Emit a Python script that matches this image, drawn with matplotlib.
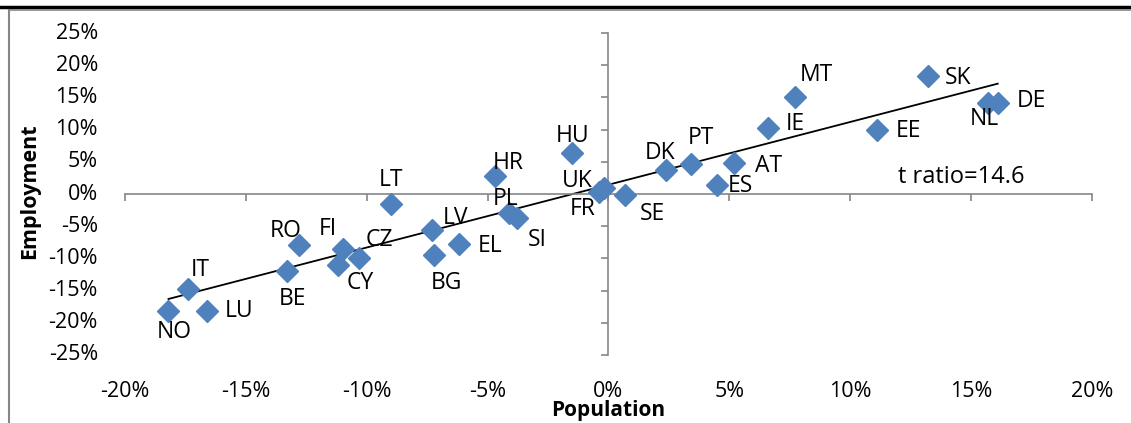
import numpy as np
import matplotlib.pyplot as plt
from matplotlib.lines import Line2D

# population change (%) vs employment change (%) by country
countries = ['NO', 'LU', 'IT', 'BE', 'RO', 'FI', 'CY', 'CZ', 'LT', 'LV', 'BG', 'EL', 'HR', 'PL', 'SI',
             'HU', 'UK', 'FR', 'SE', 'DK', 'PT', 'ES', 'AT', 'IE', 'MT', 'EE', 'SK', 'NL', 'DE']
population = [-18.2, -16.6, -17.4, -13.3, -12.8, -11.0, -11.2, -10.3, -9.0, -7.3, -7.2, -6.2, -4.7, -4.1, -3.8,
              -1.5, -0.2, -0.4, 0.7, 2.4, 3.4, 4.5, 5.2, 6.6, 7.7, 11.1, 13.2, 15.7, 16.1]
employment = [-18.2, -18.2, -14.7, -11.9, -7.9, -8.6, -11.1, -10.0, -1.5, -5.6, -9.4, -7.7, 2.8, -2.9, -3.7,
              6.3, 0.9, 0.3, -0.2, 3.7, 4.6, 1.4, 4.8, 10.3, 15.0, 9.9, 18.4, 14.1, 14.1]
t_ratio = 14.6

x_ticks = [-20, -15, -10, -5, 0, 5, 10, 15, 20]
y_ticks = [-25, -20, -15, -10, -5, 0, 5, 10, 15, 20, 25]

# label offsets in pixels (dx right, dy up)
label_off = {
    'NO': (6, -21), 'LU': (32, 0), 'IT': (12, 19), 'BE': (6, -28), 'RO': (-13, 14), 'FI': (-15, 20),
    'CY': (23, -18), 'CZ': (20, 18), 'LT': (0, 24), 'LV': (24, 12), 'BG': (12, -28), 'EL': (31, -2),
    'HR': (13, 13), 'PL': (-4, 14), 'SI': (21, -22), 'HU': (0, 17), 'UK': (-26, 7), 'FR': (-16, -17),
    'SE': (27, -19), 'DK': (-6, 17), 'PT': (10, 26), 'ES': (23, -1), 'AT': (34, -3), 'IE': (27, 4),
    'MT': (22, 22), 'EE': (32, -1), 'SK': (30, -2), 'NL': (-4, -16), 'DE': (34, 2),
}

plt.rcParams['font.family'] = ['Open Sans', 'DejaVu Sans']
grey = '#868686'

fig = plt.figure(figsize=(11.31, 4.23), dpi=100)
ax = fig.add_axes([0.1105, 0.1608, 0.855, 0.761])

x = np.array(population)
y = np.array(employment)
ax.plot(x, y, linestyle='none', marker='D', markersize=11, color='#4F81BD', zorder=3)

# linear trend line
b, a = np.polyfit(x, y, 1)
xl = np.array([x.min(), x.max()])
ax.plot(xl, a + b * xl, color='black', linewidth=1.3, zorder=2)

for c, px, py in zip(countries, population, employment):
    dx, dy = label_off[c]
    ax.annotate(c, (px, py), xytext=(dx, dy), textcoords='offset pixels',
                ha='center', va='center', fontsize=16.5, zorder=4)

ax.text(14.6, 2.6, 't ratio=' + str(t_ratio), ha='center', va='center', fontsize=17)

ax.set_xlim(-20, 20)
ax.set_ylim(-25, 25)
ax.spines['left'].set_position(('data', 0))
ax.spines['bottom'].set_position(('data', 0))
ax.spines['top'].set_visible(False)
ax.spines['right'].set_visible(False)
for s in ['left', 'bottom']:
    ax.spines[s].set_color(grey)
    ax.spines[s].set_linewidth(1.2)
ax.set_xticks(x_ticks)
ax.set_yticks(y_ticks)
ax.tick_params(direction='out', length=5, width=1.2, color=grey,
               labelbottom=False, labelleft=False)

# tick labels at the plot edges
for v in x_ticks:
    ax.text(v, -0.112, f'{v}%', transform=ax.get_xaxis_transform(),
            ha='center', va='center', fontsize=15.5)
for v in y_ticks:
    ax.text(-0.028, v, f'{v}%', transform=ax.get_yaxis_transform(),
            ha='right', va='center', fontsize=15.5)

fig.text(608 / 1131, 1 - 410 / 423, 'Population', ha='center', va='center',
         fontsize=15, fontweight='bold')
fig.text(30 / 1131, 1 - 191 / 423, 'Employment', ha='center', va='center',
         rotation=90, fontsize=15.5, fontweight='bold')

# frame lines
fig.add_artist(Line2D([0, 1], [1 - 7.5 / 423] * 2, color='black', linewidth=2.5))
fig.add_artist(Line2D([9 / 1131, 1], [1 - 10.5 / 423] * 2, color=grey, linewidth=1.2))
fig.add_artist(Line2D([9 / 1131] * 2, [0, 1 - 10.5 / 423], color=grey, linewidth=1.5))

fig.savefig('out.png', dpi=100)
